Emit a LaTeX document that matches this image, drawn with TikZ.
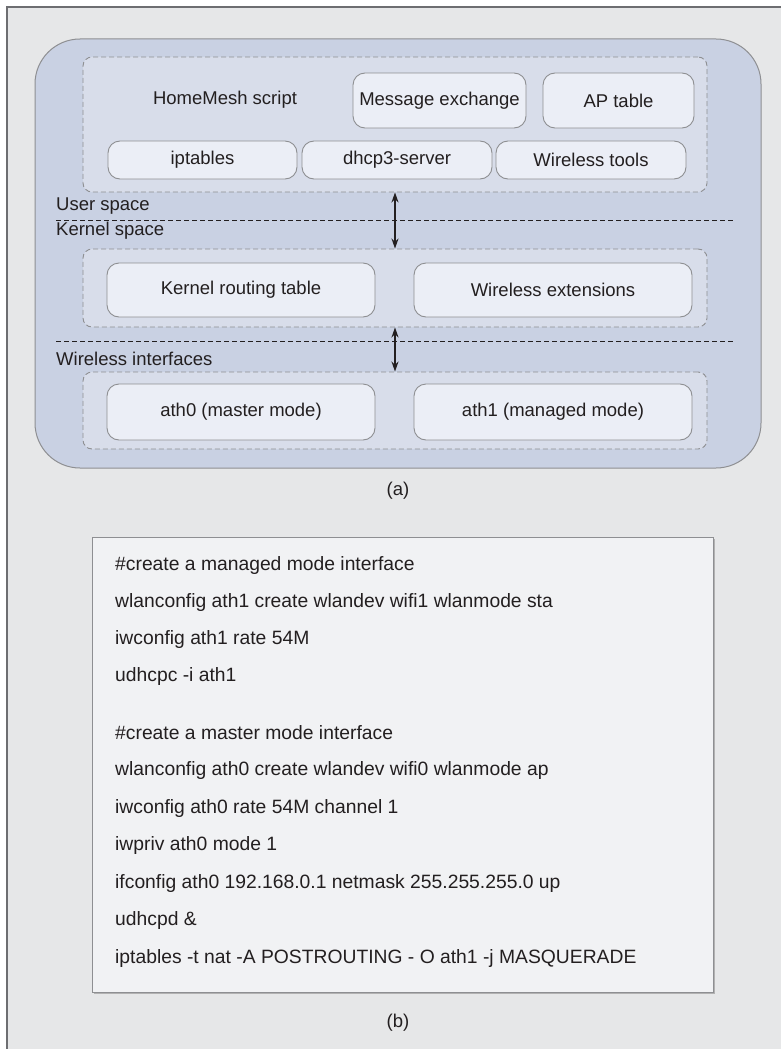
\documentclass[tikz,border=0pt]{standalone}
\usepackage{fontspec}
\setmainfont{Liberation Sans}
\usetikzlibrary{positioning,arrows.meta}

\definecolor{bggray}{HTML}{E6E7E8}
\definecolor{framegray}{HTML}{6D6E71}
\definecolor{outerblue}{HTML}{C9D1E3}
\definecolor{layerblue}{HTML}{D8DDEA}
\definecolor{boxblue}{HTML}{EBEEF6}
\definecolor{edgegray}{HTML}{8E8F92}
\definecolor{codefill}{HTML}{F1F2F4}
\definecolor{inkgray}{HTML}{231F20}

\begin{document}
\begin{tikzpicture}[x=1pt, y=-1pt,
    every node/.style={text=inkgray, font=\fontsize{18.5}{22}\selectfont},
    layer/.style={draw=edgegray, dashed, dash pattern=on 5pt off 3pt, fill=layerblue,
        rounded corners=9pt, line width=0.9pt, inner sep=0pt, minimum width=624pt},
    box/.style={draw=edgegray, fill=boxblue, rounded corners=12pt, line width=0.9pt,
        inner sep=0pt},
    sep/.style={draw=inkgray, dash pattern=on 5pt off 3pt, line width=0.9pt},
    link/.style={{Stealth[length=10pt,width=7pt]}-{Stealth[length=10pt,width=7pt]},
        draw=inkgray, line width=1.3pt}]

    \useasboundingbox (0,0) rectangle (781,1049);

    % Page background with the frame on top and left
    \fill[bggray] (7,7) rectangle (781,1049);
    \draw[framegray, line width=1.6pt] (7,1049) -- (7,7) -- (781,7);

    % (a) Outer rounded block
    \draw[edgegray, fill=outerblue, line width=1pt, rounded corners=45pt] (35,39) rectangle (761,468);

    % The three layers
    \node[layer, minimum height=135pt] (user) at (395,124.5) {};
    \node[layer, minimum height=78pt]  (kern) at (395,288) {};
    \node[layer, minimum height=77pt]  (wifi) at (395,410.5) {};

    % User space boxes
    \node (script) at (225,100) {HomeMesh script};
    \node[box, minimum width=173pt, minimum height=55pt] (msg) at (439.5,100.5) {Message exchange};
    \node[box, minimum width=151pt, minimum height=55pt] (ap)  at (618.5,100.5) {AP table};
    \node[box, minimum width=189pt, minimum height=38pt] (ipt) at (202.5,160) {iptables};
    \node[box, minimum width=190pt, minimum height=38pt] (dhcp) at (397,160) {dhcp3-server};
    \node[box, minimum width=190pt, minimum height=38pt] (wtools) at (591,160) {Wireless tools};

    % Kernel space boxes
    \node[box, minimum width=268pt, minimum height=54pt] (krt)  at (241,290) {Kernel routing table};
    \node[box, minimum width=278pt, minimum height=54pt] (wext) at (553,290) {Wireless extensions};

    % Wireless interfaces boxes
    \node[box, minimum width=268pt, minimum height=56pt] (ath0) at (241,412) {ath0 (master mode)};
    \node[box, minimum width=278pt, minimum height=56pt] (ath1) at (553,412) {ath1 (managed mode)};

    % Separators and their labels
    \draw[sep] (56,220) -- (734,220);
    \draw[sep] (56,341) -- (734,341);
    \node[anchor=west, inner sep=0pt] (usp) at (56,206) {User space};
    \node[anchor=west, inner sep=0pt] (ksp) at (56,231) {Kernel space};
    \node[anchor=west, inner sep=0pt] (wif) at (56,359) {Wireless interfaces};

    % Arrows between layers
    \draw[link] (user.south) -- (kern.north);
    \draw[link] (kern.south) -- (wifi.north);

    \node (capa) at (398,491) {(a)};

    % (b) Configuration script
    \fill[black!30] (93.5,538.5) rectangle (715,994);
    \node[draw=edgegray, fill=codefill, line width=0.9pt, inner sep=0pt,
        minimum width=621pt, minimum height=455pt] (code) at (402.5,764.5) {};
    \foreach \yy/\txt [count=\i] in {
        566/{\#create a managed mode interface},
        603/{wlanconfig ath1 create wlandev wifi1 wlanmode sta},
        640/{iwconfig ath1 rate 54M},
        677/{udhcpc -i ath1},
        733/{\#create a master mode interface},
        771/{wlanconfig ath0 create wlandev wifi0 wlanmode ap},
        808/{iwconfig ath0 rate 54M channel 1},
        845/{iwpriv ath0 mode 1},
        883/{ifconfig ath0 192.168.0.1 netmask 255.255.255.0 up},
        920/{udhcpd \&},
        958/{iptables -t nat -A POSTROUTING - O ath1 -j MASQUERADE}}
        \node[anchor=west, inner sep=0pt, font=\fontsize{19.3}{22}\selectfont] (line\i) at (115,\yy) {\txt};

    \node (capb) at (398,1023) {(b)};

\end{tikzpicture}
\end{document}
